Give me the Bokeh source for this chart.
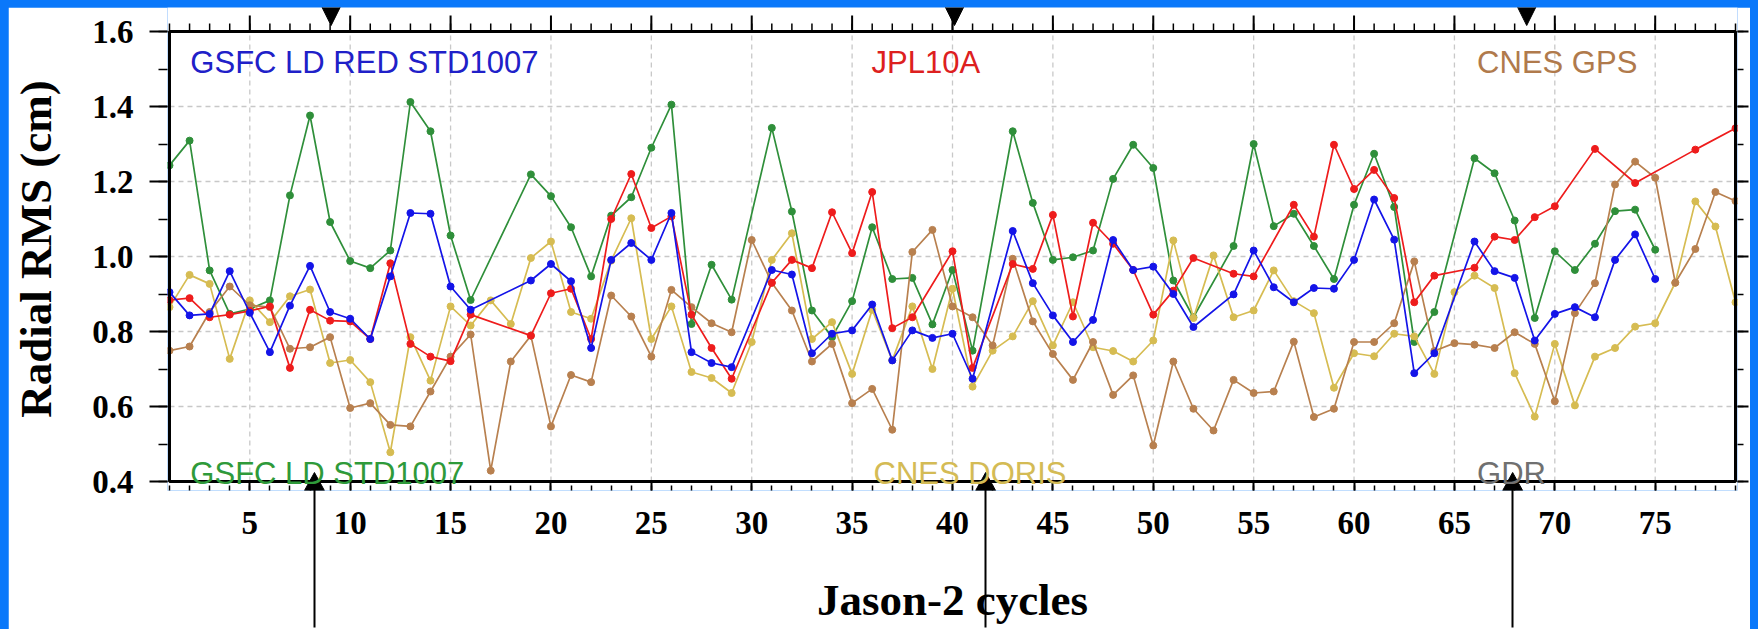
from bokeh.plotting import figure
from bokeh.models import (LinearAxis, FixedTicker, PrintfTickFormatter,
                          Label, GlobalInlineStyleSheet, Range1d)
from bokeh.embed import file_html
from bokeh.resources import INLINE

N = None
cycles = list(range(1, 80))

gsfc_ld_red = [0.905, 0.843, 0.847, 0.961, 0.85, 0.745, 0.869, 0.975, 0.852, 0.834,
               0.780, 0.947, 1.116, 1.114, 0.92, 0.858, N, N, 0.936, 0.98,
               0.934, 0.756, 0.991, 1.036, 0.991, 1.116, 0.745, 0.716, 0.705, N,
               0.964, 0.952, 0.742, 0.794, 0.803, 0.872, 0.723, 0.803, 0.783, 0.794,
               0.674, N, 1.068, 0.929, 0.843, 0.772, 0.831, 1.044, 0.964, 0.973,
               0.9, 0.812, N, 0.899, 1.016, 0.918, 0.878, 0.916, 0.914, 0.991,
               1.152, 1.045, 0.689, 0.742, N, 1.04, 0.961, 0.943, 0.776, 0.847,
               0.865, 0.838, 0.991, 1.059, 0.94, N, N, N, N]

jpl10a = [0.884, 0.889, 0.838, 0.845, 0.855, 0.867, 0.703, 0.858, 0.829, 0.827,
          0.780, 0.982, 0.767, 0.733, 0.721, 0.845, N, N, 0.789, 0.902,
          0.914, 0.78, 1.1, 1.22, 1.076, 1.107, 0.845, 0.756, 0.674, N,
          0.93, 0.991, 0.969, 1.118, 1.009, 1.172, 0.809, 0.838, N, 1.014,
          0.703, N, 0.98, 0.967, 1.111, 0.84, 1.09, 1.034, 0.964, 0.845,
          0.909, 0.996, N, 0.954, 0.947, N, 1.138, 1.053, 1.298, 1.18,
          1.231, 1.156, 0.878, 0.949, N, 0.97, 1.053, 1.044, 1.105, 1.134,
          N, 1.287, N, 1.196, N, N, 1.285, N, 1.342]

gsfc_ld = [1.243, 1.309, 0.963, 0.847, 0.86, 0.883, 1.163, 1.376, 1.092, 0.988,
           0.969, 1.016, 1.412, 1.334, 1.056, 0.884, N, N, 1.219, 1.161,
           1.078, 0.947, 1.109, 1.158, 1.29, 1.405, 0.82, 0.978, 0.885, N,
           1.343, 1.12, 0.856, 0.785, 0.881, 1.078, 0.94, 0.943, 0.819, 0.964,
           0.749, N, 1.334, 1.143, 0.991, 0.998, 1.016, 1.207, 1.298, 1.236,
           0.936, 0.838, N, 1.028, 1.3, 1.081, 1.114, 1.028, 0.94, 1.138,
           1.274, 1.132, 0.772, 0.852, N, 1.262, 1.222, 1.096, 0.836, 1.014,
           0.964, 1.034, 1.121, 1.125, 1.018, N, N, N, N]

cnes_doris = [0.865, 0.951, 0.927, 0.727, 0.883, 0.825, 0.894, 0.912, 0.716, 0.724,
              0.665, 0.478, 0.785, 0.669, 0.867, 0.816, 0.883, 0.82, 0.996, 1.04,
              0.852, 0.834, 0.989, 1.102, 0.78, 0.867, 0.692, 0.676, 0.636, 0.772,
              0.991, 1.062, 0.78, 0.825, 0.687, 0.858, 0.723, 0.867, 0.70, 0.914,
              0.653, 0.749, 0.787, 0.881, 0.763, 0.878, 0.758, 0.748, 0.72, 0.776,
              1.043, 0.836, 1.003, 0.838, 0.856, 0.963, 0.881, 0.849, 0.65, 0.742,
              0.734, 0.794, 0.787, 0.687, 0.905, 0.949, 0.916, 0.689, 0.573, 0.767,
              0.603, 0.733, 0.756, 0.813, 0.822, 0.93, 1.147, 1.08, 0.878]

cnes_gps = [0.749, 0.76, 0.852, 0.92, 0.87, 0.865, 0.754, 0.758, 0.785, 0.596,
            0.609, 0.551, 0.547, 0.64, 0.733, 0.792, 0.429, 0.72, 0.789, 0.547,
            0.684, 0.665, 0.896, 0.84, 0.733, 0.911, 0.865, 0.822, 0.798, 1.044,
            0.93, 0.856, 0.72, 0.767, 0.609, 0.647, 0.538, 1.012, 1.071, 0.867,
            0.838, 0.763, 0.994, 0.827, 0.74, 0.671, 0.772, 0.631, 0.683, 0.496,
            0.72, 0.594, 0.536, 0.671, 0.636, 0.64, 0.773, 0.572, 0.594, 0.772,
            0.772, 0.822, 0.987, 0.748, 0.769, 0.765, 0.756, 0.798, 0.767, 0.614,
            0.849, 0.929, 1.192, 1.253, 1.21, 0.93, 1.02, 1.172, 1.148]

x_major = list(range(5, 80, 5))
x_minor = list(range(1, 80))
y_major = [0.4, 0.6, 0.8, 1.0, 1.2, 1.4, 1.6]
y_minor = [0.4, 0.5, 0.6, 0.7, 0.8, 0.9, 1.0, 1.1, 1.2, 1.3, 1.4, 1.5, 1.6]

top_arrow_cycles = [9.05, 40.1, 68.6]
bottom_arrow_cycles = [8.22, 41.65, 67.9]

series = [
    ("GSFC LD STD1007", gsfc_ld, "#2f8f3a"),
    ("CNES DORIS", cnes_doris, "#d6bc52"),
    ("CNES GPS", cnes_gps, "#b8804f"),
    ("JPL10A", jpl10a, "#ee1c1c"),
    ("GSFC LD RED STD1007", gsfc_ld_red, "#1414e8"),
]

# plot box: cycles 1..79, values 0.4..1.6 ; pixel scales of the reference
XMIN, XMAX, YMIN, YMAX = 1, 79, 0.4, 1.6
PXC = 1571 / 78.0     # pixels per cycle
PXV = 375.0           # pixels per cm
def dx(px):
    return px / PXC
def dy(px):
    return px / PXV

p = figure(width=1742, height=622, title=None,
           x_range=Range1d(XMIN - dx(2), XMAX + dx(2)),
           y_range=Range1d(YMIN - dy(9), YMAX + dy(24)),
           output_backend="svg", toolbar_location=None,
           min_border_left=154, min_border_right=13, min_border_top=0, min_border_bottom=139,
           background_fill_color="white", border_fill_color="white",
           outline_line_color=None)
p.margin = (7, 0, 0, 8)
p.xgrid.visible = False
p.ygrid.visible = False

serif = "Liberation Serif"

bx = p.xaxis[0]
bx.ticker = FixedTicker(ticks=x_major, minor_ticks=x_minor)
bx.axis_label = "Jason-2 cycles"
bx.axis_line_color = None
bx.major_tick_in = 9
bx.major_tick_out = 0
bx.minor_tick_in = 5
bx.minor_tick_out = 0
bx.major_label_standoff = 21
bx.axis_label_standoff = 38

ly = p.yaxis[0]
ly.ticker = FixedTicker(ticks=y_major, minor_ticks=y_minor)
ly.formatter = PrintfTickFormatter(format="%.1f")
ly.axis_label = "Radial RMS (cm)"
ly.axis_line_color = None
ly.major_tick_out = 18
ly.minor_tick_out = 9
ly.major_tick_in = 0
ly.minor_tick_in = 0
ly.major_label_standoff = 16
ly.axis_label_standoff = 28

for ax in [bx, ly]:
    ax.major_tick_line_color = "black"
    ax.major_tick_line_width = 2
    ax.minor_tick_line_color = "black"
    ax.minor_tick_line_width = 1.5
    ax.major_label_text_font = serif
    ax.major_label_text_font_style = "bold"
    ax.major_label_text_color = "black"
    ax.major_label_text_font_size = "33px"
    ax.axis_label_text_font = serif
    ax.axis_label_text_font_style = "bold"
    ax.axis_label_text_font_size = "45px"
    ax.axis_label_text_color = "black"

right = LinearAxis(ticker=FixedTicker(ticks=y_major, minor_ticks=y_minor),
                   axis_line_color=None,
                   major_tick_out=11, minor_tick_out=6, major_tick_in=0, minor_tick_in=0,
                   major_tick_line_color="black", minor_tick_line_color="black",
                   major_tick_line_width=2, minor_tick_line_width=1.5,
                   major_label_standoff=0, major_label_text_font_size="1px",
                   major_label_text_color=None)
p.add_layout(right, "right")

# shafts of the arrows rising from the bottom edge, drawn as long inward ticks
shaft = LinearAxis(ticker=FixedTicker(ticks=bottom_arrow_cycles, minor_ticks=[]),
                   axis_line_color=None,
                   major_tick_in=148, major_tick_out=0, minor_tick_in=0, minor_tick_out=0,
                   major_tick_line_color="black", major_tick_line_width=2,
                   major_label_standoff=0, major_label_text_font_size="1px",
                   major_label_text_color=None)
p.add_layout(shaft, "below")

# dashed grid inside the plot box
p.segment(x0=x_major, y0=[YMIN] * len(x_major), x1=x_major, y1=[YMAX] * len(x_major),
          line_color="#c8c8c8", line_dash="5 4", line_width=1.3)
yg = y_major[1:-1]
p.segment(x0=[XMIN] * len(yg), y0=yg, x1=[XMAX] * len(yg), y1=yg,
          line_color="#c8c8c8", line_dash="5 4", line_width=1.3)

for name, vals, col in series:
    xs = [c for c, v in zip(cycles, vals) if v is not None]
    ys = [v for v in vals if v is not None]
    p.line(xs, ys, line_color=col, line_width=1.7)
    p.scatter(xs, ys, size=7, fill_color=col, line_color=col)

# plot box
p.quad(left=[XMIN], right=[XMAX], bottom=[YMIN], top=[YMAX],
       fill_color=None, line_color="black", line_width=3)

# ticks along the top edge
p.segment(x0=x_minor, y0=[YMAX] * len(x_minor), x1=x_minor,
          y1=[YMAX + dy(8)] * len(x_minor), line_color="black", line_width=1.5)
p.segment(x0=x_major, y0=[YMAX] * len(x_major), x1=x_major,
          y1=[YMAX + dy(16)] * len(x_major), line_color="black", line_width=2)

sans = "Liberation Sans"
labels = [
    ("GSFC LD RED STD1007", 2.04, 1.518, "#2020c8"),
    ("JPL10A", 35.97, 1.518, "#dd2020"),
    ("CNES GPS", 66.13, 1.518, "#b07a4c"),
    ("GSFC LD STD1007", 2.04, 0.4205, "#2f9a3a"),
    ("CNES DORIS", 36.07, 0.4205, "#d4bb55"),
    ("GDR", 66.13, 0.4205, "#707070"),
]
for t, x, y, c in labels:
    p.add_layout(Label(x=x, y=y, text=t, text_font=sans, text_font_size="31px",
                       text_color=c, text_baseline="alphabetic", text_align="left"))

# arrow heads
p.patches(xs=[[c - dx(10), c + dx(10), c] for c in bottom_arrow_cycles],
          ys=[[YMIN - dy(9), YMIN - dy(9), YMIN + dy(9)] for c in bottom_arrow_cycles],
          fill_color="black", line_color="black", line_width=1)
p.patches(xs=[[c - dx(11), c + dx(11), c] for c in top_arrow_cycles],
          ys=[[YMAX + dy(28), YMAX + dy(28), YMAX + dy(6)] for c in top_arrow_cycles],
          fill_color="black", line_color="black", line_width=1)

p.stylesheets = [GlobalInlineStyleSheet(css="body { background: #0a78fa; }")]

open("out.html", "w").write(file_html(p, INLINE))
